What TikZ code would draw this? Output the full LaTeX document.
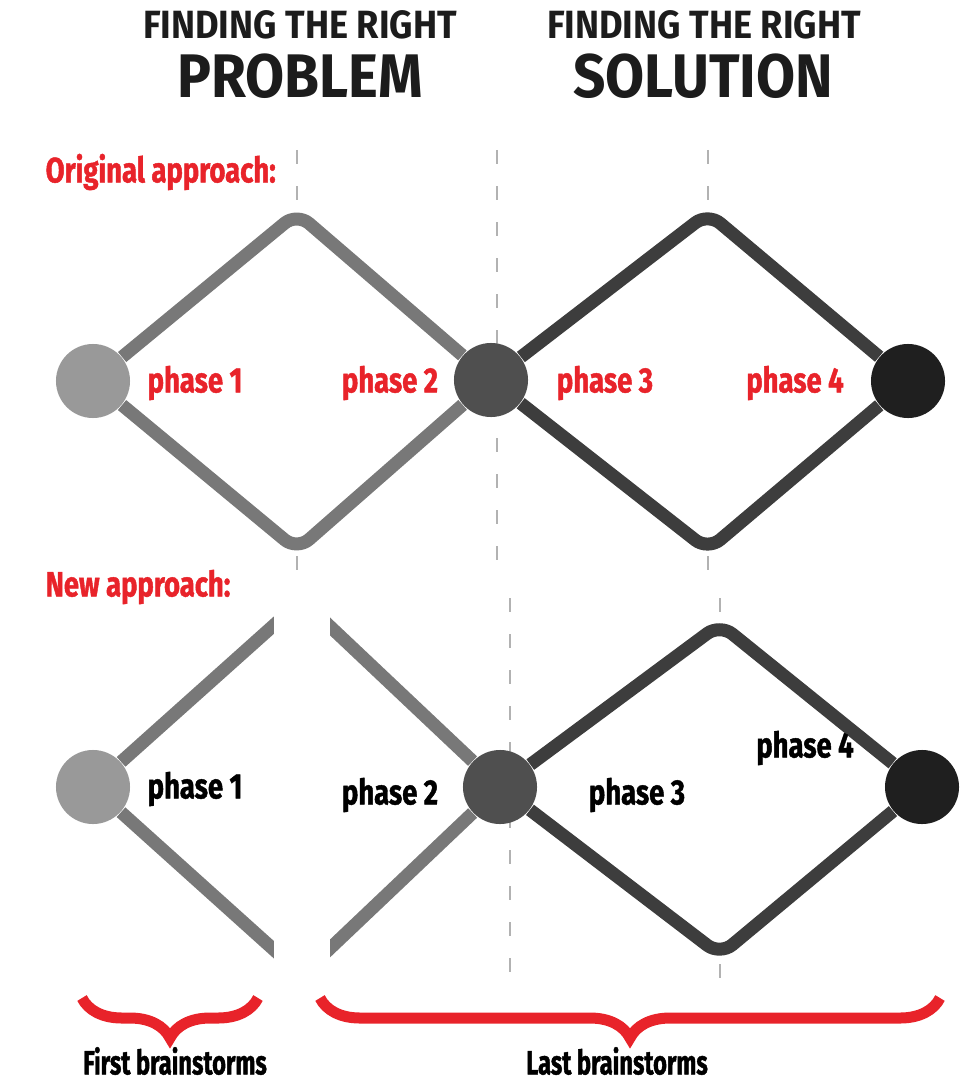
\documentclass[tikz,border=0pt]{standalone}
\usepackage{fontspec}
\setmainfont{Fira Sans}
\newfontfamily\headfont[FakeStretch=0.92]{Fira Sans}
\newfontfamily\tagfont[FakeStretch=0.78, FakeBold=1.2]{Fira Sans}
\newfontfamily\spanfont[FakeStretch=0.7, FakeBold=1.2]{Fira Sans}
\usetikzlibrary{decorations.pathreplacing}
\definecolor{tagred}{HTML}{E8232A}
\definecolor{inkhead}{HTML}{1C1C1C}
\tikzset{
  dot/.style={circle, inner sep=0pt, minimum size=0.74cm},
  rail/.style={line width=0.13cm, rounded corners=0.16cm, line join=round},
  guide/.style={gray!60, line width=0.6pt, dash pattern=on 1.4mm off 2.2mm},
  head/.style={font=\headfont\bfseries\fontsize{11.2}{13}\selectfont, text=inkhead, inner sep=0pt},
  bighead/.style={font=\headfont\bfseries\fontsize{17.5}{20}\selectfont, text=inkhead, inner sep=0pt},
  tag/.style={font=\tagfont\bfseries\fontsize{10}{12}\selectfont, inner sep=0pt},
  spantag/.style={font=\spanfont\bfseries\fontsize{9.6}{11}\selectfont, inner sep=0pt},
  brace/.style={decorate, decoration={brace, amplitude=0.4cm}, draw=tagred, line width=0.11cm},
}
\begin{document}
\begin{tikzpicture}[x=0.01cm, y=-0.01cm]
		\useasboundingbox (0,0) rectangle (975,1082);
		% headings
		\node[head] (h1) at (300,25) {FINDING THE RIGHT};
		\node[bighead] (h2) at (300,76) {PROBLEM};
		\node[head] (h3) at (704,25) {FINDING THE RIGHT};
		\node[bighead] (h4) at (703,76) {SOLUTION};
		\node[tag, text=tagred, anchor=west] (orig) at (45,172) {Original approach:};
		\node[tag, text=tagred, anchor=west] (new) at (45,587) {New approach:};
		% phase borders
		\draw[guide] (297,150)--(297,200) (297,556)--(297,578);
		\draw[guide] (497,150)--(497,578);
		\draw[guide] (708,150)--(708,200) (708,556)--(708,578);
		\draw[guide] (510,598)--(510,978);
		\draw[guide] (720,598)--(720,612) (720,964)--(720,978);
		% original double diamond
		\node[dot, fill=black!40] (a1) at (93,381) {};
		\node[dot, fill=black!69] (m1) at (491,380) {};
		\node[dot, fill=black!88] (z1) at (908,381) {};
		\coordinate (t1) at (297,213);
		\coordinate (b1) at (297,550);
		\coordinate (t2) at (708,213);
		\coordinate (b2) at (708,550);
		\draw[rail, black!53] (a1)--(t1)--(m1) (a1)--(b1)--(m1);
		\draw[rail, black!76] (m1)--(t2)--(z1) (m1)--(b2)--(z1);
		\node[tag, text=tagred] (p1) at (195,383) {phase 1};
		\node[tag, text=tagred] (p2) at (390,383) {phase 2};
		\node[tag, text=tagred] (p3) at (605,383) {phase 3};
		\node[tag, text=tagred] (p4) at (795,383) {phase 4};
		% new approach, first diamond cut open
		\node[dot, fill=black!40] (a2) at (93,787) {};
		\node[dot, fill=black!69] (m2) at (500,787) {};
		\node[dot, fill=black!88] (z2) at (922,787) {};
		\coordinate (u1) at (302,600);
		\coordinate (d1) at (302,975);
		\coordinate (u2) at (720,624);
		\coordinate (d2) at (720,955);
		\draw[rail, black!53] (a2)--(u1)--(m2) (a2)--(d1)--(m2);
		\fill[white] (274,585) rectangle (330,995);
		\draw[rail, black!76] (m2)--(u2)--(z2) (m2)--(d2)--(z2);
		\node[tag] (q1) at (195,789) {phase 1};
		\node[tag] (q2) at (390,795) {phase 2};
		\node[tag] (q3) at (637,795) {phase 3};
		\node[tag] (q4) at (805,748) {phase 4};
		% brainstorm spans
		\draw[brace] (258,998)--(82,998);
		\draw[brace] (940,998)--(320,998);
		\node[spantag] (fb) at (175,1061) {First brainstorms};
		\node[spantag] (lb) at (617,1061) {Last brainstorms};
\end{tikzpicture}
\end{document}
